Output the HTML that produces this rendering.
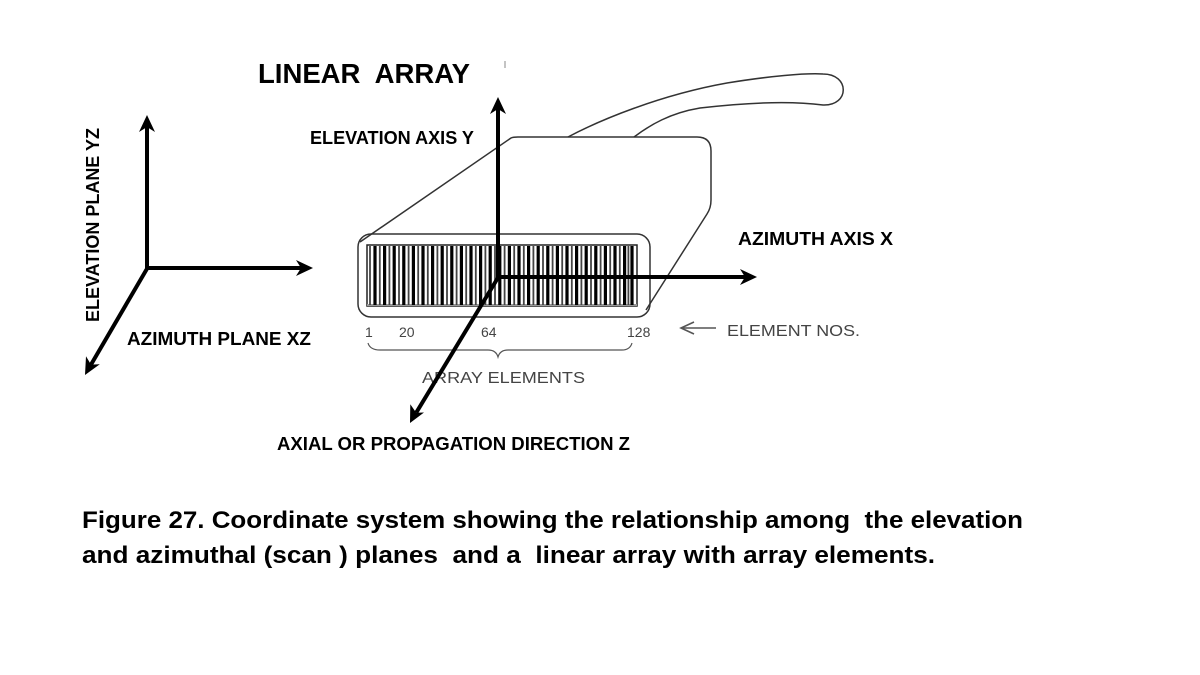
<!DOCTYPE html>
<html>
<head>
<meta charset="utf-8">
<style>
html,body{margin:0;padding:0;background:#fff;}
svg{display:block;}
text{font-family:"Liberation Sans",sans-serif;}
.b{font-weight:bold;fill:#000;}
.g{fill:#444;}
</style>
</head>
<body>
<svg width="1200" height="675" viewBox="0 0 1200 675" xmlns="http://www.w3.org/2000/svg">
<rect width="1200" height="675" fill="#fff"/>

<!-- Probe housing -->
<g fill="none" stroke="#333" stroke-width="1.5" stroke-linejoin="round">
  <path d="M360,242 L511,138 Q513,137 518,137 L697,137 Q711,137 711,151 L711,200 Q711,208 707,214 L646,310"/>
  <!-- cable -->
  <path d="M568,137 C600,120 660,95 727,83 C770,76 805,73 823,74 C850,74 850,106 823,105 C800,102 760,101 700,108 C670,113 650,125 634,137"/>
  <!-- outer rounded rect -->
  <rect x="358" y="234" width="292" height="83" rx="13" ry="13"/>
</g>
<!-- tiny tick -->
<line x1="505" y1="61" x2="505" y2="68" stroke="#888" stroke-width="1"/>

<!-- inner element array -->
<g>
  <rect x="367" y="245" width="270" height="61" fill="#fff" stroke="#222" stroke-width="1.5"/>
  <line x1="367" y1="305" x2="637" y2="305" stroke="#999" stroke-width="2"/>
  <g stroke="#000" stroke-width="3.2">
    <line x1="375" y1="246" x2="375" y2="305"/>
    <line x1="384.6" y1="246" x2="384.6" y2="305"/>
    <line x1="394.2" y1="246" x2="394.2" y2="305"/>
    <line x1="403.8" y1="246" x2="403.8" y2="305"/>
    <line x1="413.4" y1="246" x2="413.4" y2="305"/>
    <line x1="423" y1="246" x2="423" y2="305"/>
    <line x1="432.6" y1="246" x2="432.6" y2="305"/>
    <line x1="442.2" y1="246" x2="442.2" y2="305"/>
    <line x1="451.8" y1="246" x2="451.8" y2="305"/>
    <line x1="461.4" y1="246" x2="461.4" y2="305"/>
    <line x1="471" y1="246" x2="471" y2="305"/>
    <line x1="480.6" y1="246" x2="480.6" y2="305"/>
    <line x1="490.2" y1="246" x2="490.2" y2="305"/>
    <line x1="499.8" y1="246" x2="499.8" y2="305"/>
    <line x1="509.4" y1="246" x2="509.4" y2="305"/>
    <line x1="519" y1="246" x2="519" y2="305"/>
    <line x1="528.6" y1="246" x2="528.6" y2="305"/>
    <line x1="538.2" y1="246" x2="538.2" y2="305"/>
    <line x1="547.8" y1="246" x2="547.8" y2="305"/>
    <line x1="557.4" y1="246" x2="557.4" y2="305"/>
    <line x1="567" y1="246" x2="567" y2="305"/>
    <line x1="576.6" y1="246" x2="576.6" y2="305"/>
    <line x1="586.2" y1="246" x2="586.2" y2="305"/>
    <line x1="595.8" y1="246" x2="595.8" y2="305"/>
    <line x1="605.4" y1="246" x2="605.4" y2="305"/>
    <line x1="615" y1="246" x2="615" y2="305"/>
    <line x1="624.6" y1="246" x2="624.6" y2="305"/>
    <line x1="632" y1="246" x2="632" y2="305"/>
  </g>
  <g stroke="#444" stroke-width="1.8">
    <line x1="370" y1="246" x2="370" y2="305"/>
    <line x1="379.8" y1="246" x2="379.8" y2="305"/>
    <line x1="389.4" y1="246" x2="389.4" y2="305"/>
    <line x1="399" y1="246" x2="399" y2="305"/>
    <line x1="408.6" y1="246" x2="408.6" y2="305"/>
    <line x1="418.2" y1="246" x2="418.2" y2="305"/>
    <line x1="427.8" y1="246" x2="427.8" y2="305"/>
    <line x1="437.4" y1="246" x2="437.4" y2="305"/>
    <line x1="447" y1="246" x2="447" y2="305"/>
    <line x1="456.6" y1="246" x2="456.6" y2="305"/>
    <line x1="466.2" y1="246" x2="466.2" y2="305"/>
    <line x1="475.8" y1="246" x2="475.8" y2="305"/>
    <line x1="485.4" y1="246" x2="485.4" y2="305"/>
    <line x1="495" y1="246" x2="495" y2="305"/>
    <line x1="504.6" y1="246" x2="504.6" y2="305"/>
    <line x1="514.2" y1="246" x2="514.2" y2="305"/>
    <line x1="523.8" y1="246" x2="523.8" y2="305"/>
    <line x1="533.4" y1="246" x2="533.4" y2="305"/>
    <line x1="543" y1="246" x2="543" y2="305"/>
    <line x1="552.6" y1="246" x2="552.6" y2="305"/>
    <line x1="562.2" y1="246" x2="562.2" y2="305"/>
    <line x1="571.8" y1="246" x2="571.8" y2="305"/>
    <line x1="581.4" y1="246" x2="581.4" y2="305"/>
    <line x1="591" y1="246" x2="591" y2="305"/>
    <line x1="600.6" y1="246" x2="600.6" y2="305"/>
    <line x1="610.2" y1="246" x2="610.2" y2="305"/>
    <line x1="619.8" y1="246" x2="619.8" y2="305"/>
    <line x1="628.4" y1="246" x2="628.4" y2="305"/>
  </g>
</g>

<!-- element numbers & brace -->
<g class="g" font-size="14">
  <text x="365" y="337">1</text>
  <text x="399" y="337">20</text>
  <text x="481" y="337">64</text>
  <text x="627" y="337">128</text>
</g>
<path d="M368,343 Q370,350 380,350 L488,350 Q496,350 498,357 Q500,350 508,350 L622,350 Q630,350 632,343" fill="none" stroke="#555" stroke-width="1.2"/>
<text class="g" x="422" y="383" font-size="16" textLength="163" lengthAdjust="spacingAndGlyphs">ARRAY ELEMENTS</text>

<!-- element nos arrow -->
<g stroke="#555" stroke-width="1.6" fill="none">
  <line x1="682" y1="328" x2="716" y2="328"/>
  <polyline points="694,322 681,328 694,334"/>
</g>
<text class="g" x="727" y="336" font-size="16" textLength="133" lengthAdjust="spacingAndGlyphs">ELEMENT NOS.</text>

<!-- Axes (thick black) -->
<g stroke="#000" stroke-width="4" fill="none" stroke-linecap="butt">
  <!-- left -->
  <line x1="147" y1="270" x2="147" y2="127"/>
  <line x1="145" y1="268" x2="301" y2="268"/>
  <line x1="148" y1="267" x2="91" y2="364.6"/>
  <!-- center -->
  <line x1="498" y1="279" x2="498" y2="109"/>
  <line x1="496" y1="277" x2="745" y2="277"/>
  <line x1="499" y1="276" x2="416.2" y2="412.7"/>
</g>
<g fill="#000">
  <polygon points="147,115 155,132 147,127 139,132"/>
  <polygon points="313,268 296,276 301,268 296,260"/>
  <polygon points="85,375 86.0,356.3 91,364.6 99.8,364.3"/>
  <polygon points="498,97 506,114 498,109 490,114"/>
  <polygon points="757,277 740,285 745,277 740,269"/>
  <polygon points="410,423 410.3,404.2 416.2,412.7 424.0,412.5"/>
</g>

<!-- labels -->
<text class="b" x="258" y="83" font-size="28" textLength="212" lengthAdjust="spacingAndGlyphs">LINEAR&#160; ARRAY</text>
<text class="b" x="310" y="144" font-size="18" textLength="164" lengthAdjust="spacingAndGlyphs">ELEVATION AXIS Y</text>
<text class="b" x="738" y="245" font-size="18" textLength="155" lengthAdjust="spacingAndGlyphs">AZIMUTH AXIS X</text>
<text class="b" x="127" y="345" font-size="18" textLength="184" lengthAdjust="spacingAndGlyphs">AZIMUTH PLANE XZ</text>
<text class="b" x="277" y="450" font-size="18" textLength="353" lengthAdjust="spacingAndGlyphs">AXIAL OR PROPAGATION DIRECTION Z</text>
<text class="b" transform="translate(99,322) rotate(-90)" x="0" y="0" font-size="18" textLength="194" lengthAdjust="spacingAndGlyphs">ELEVATION PLANE YZ</text>

<!-- caption -->
<text class="b" x="82" y="528" font-size="24" textLength="941" lengthAdjust="spacingAndGlyphs" xml:space="preserve">Figure 27. Coordinate system showing the relationship among  the elevation</text>
<text class="b" x="82" y="563" font-size="24" textLength="853" lengthAdjust="spacingAndGlyphs" xml:space="preserve">and azimuthal (scan ) planes  and a  linear array with array elements.</text>
</svg>
</body>
</html>
